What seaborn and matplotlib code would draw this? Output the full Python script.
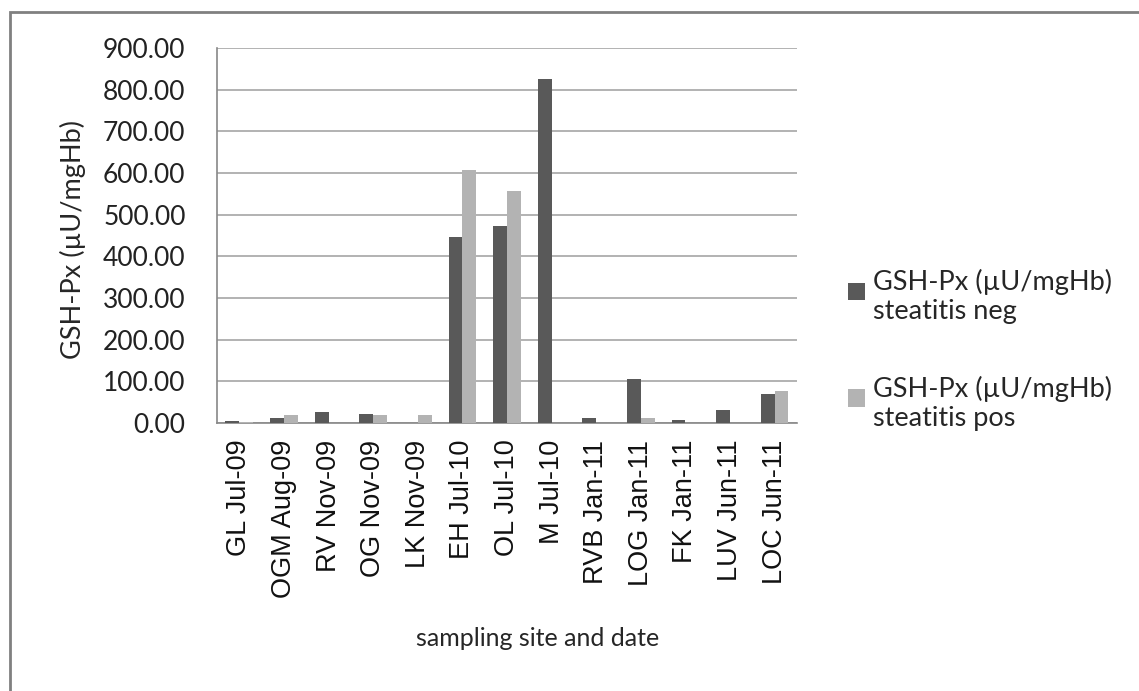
import numpy as np
import pandas as pd
import matplotlib
matplotlib.use("Agg")
import matplotlib.pyplot as plt
import seaborn as sns
from matplotlib.patches import Rectangle
from matplotlib.legend_handler import HandlerPatch

# data
sites = ["GL Jul-09", "OGM Aug-09", "RV Nov-09", "OG Nov-09", "LK Nov-09",
         "EH Jul-10", "OL Jul-10", "M Jul-10", "RVB Jan-11", "LOG Jan-11",
         "FK Jan-11", "LUV Jun-11", "LOC Jun-11"]
neg = [4, 11, 26, 22, 0, 447, 473, 825, 11, 106, 8, 32, 69]
pos = [3, 19, 0, 19, 19, 607, 556, 0, 0, 11, 0, 0, 77]
series = ["GSH-Px (µU/mgHb)\nsteatitis neg", "GSH-Px (µU/mgHb)\nsteatitis pos"]
yticks = np.arange(0, 901, 100)

df = pd.DataFrame({
    "site": sites * 2,
    "value": neg + pos,
    "serie": [series[0]] * len(sites) + [series[1]] * len(sites),
})

sns.set_style("white")
plt.rcParams["font.family"] = ["Lato", "DejaVu Sans"]

fig = plt.figure(figsize=(11.39, 6.91), dpi=100)
ax = fig.add_axes([0.1905, 0.3878, 0.5092, 0.5427])

sns.barplot(data=df, x="site", y="value", hue="serie",
            palette=["#595959", "#b3b3b3"], width=0.62, gap=0,
            saturation=1, linewidth=0, edgecolor="none", ax=ax, zorder=3)

ax.set_ylim(0, 900)
ax.set_xlim(-0.5, len(sites) - 0.5)
ax.set_yticks(yticks)
ax.set_yticklabels([f"{v:.2f}" for v in yticks], fontsize=19, color="#222222")
ax.yaxis.grid(True, color="#a6a6a6", linewidth=1.2, zorder=0)
ax.set_axisbelow(True)

ax.set_xticks(range(len(sites)))
ax.set_xticklabels(sites, rotation=90, fontsize=19.5, family="Liberation Sans", color="#111111")
ax.set_xticks(np.arange(-0.5, len(sites), 1), minor=True)
ax.tick_params(axis="x", which="major", length=0, pad=12)
ax.tick_params(axis="x", which="minor", length=7, width=1.2, color="#888888", direction="out")
ax.tick_params(axis="y", length=8.6, width=1.2, color="#a6a6a6", direction="out", pad=14)

for s in ["top", "right"]:
    ax.spines[s].set_visible(False)
for s in ["left", "bottom"]:
    ax.spines[s].set_color("#888888")
    ax.spines[s].set_linewidth(1.2)

ax.set_ylabel("GSH-Px (µU/mgHb)", fontsize=19.5)
ax.yaxis.set_label_coords(-0.226, 0.49)
ax.set_xlabel("sampling site and date", fontsize=18)
ax.xaxis.set_label_coords(0.552, -0.545)


# legend square sits on the first text line, like in the original
def square_up(legend, orig_handle, xdescent, ydescent, width, height, fontsize):
    return Rectangle((-xdescent, -ydescent + 4), width, height)


handles, labels = ax.get_legend_handles_labels()
leg = ax.legend(handles, labels, loc="upper left", bbox_to_anchor=(1.07, 0.44),
                frameon=False, fontsize=19.5, handlelength=0.62, handleheight=0.62,
                handletextpad=0.3, labelspacing=1.9, borderaxespad=0,
                handler_map={h: HandlerPatch(patch_func=square_up) for h in handles})

fig.patches.append(Rectangle((10 / 1139, -0.01), 1.1, 1 - 12 / 691 + 0.01,
                             transform=fig.transFigure, fill=False,
                             edgecolor="#808080", linewidth=2))

fig.savefig("out.png", dpi=100)
